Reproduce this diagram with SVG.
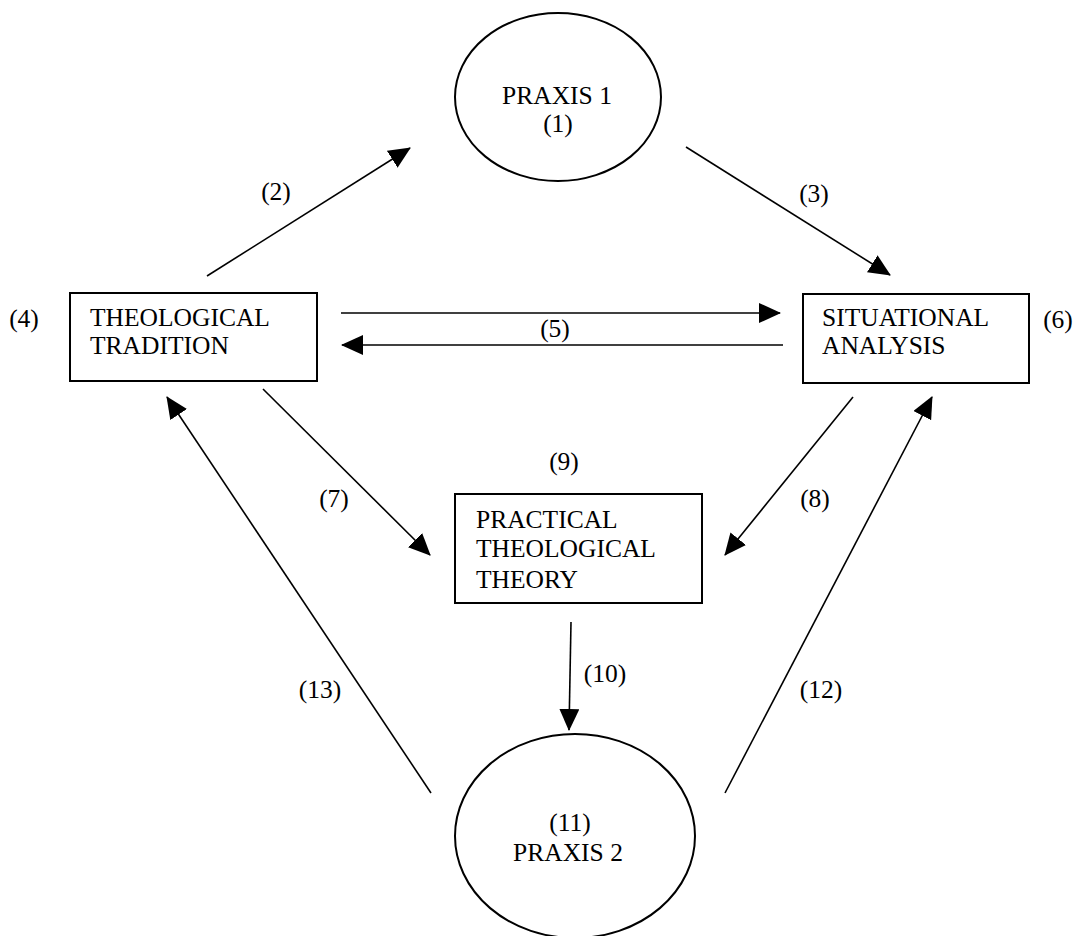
<svg xmlns="http://www.w3.org/2000/svg" width="1083" height="936" viewBox="0 0 1083 936">
<style>
text{font-family:"Liberation Serif","Times New Roman",serif;font-size:25.5px;fill:#000}
.c{text-anchor:middle}
.box{fill:#fff;stroke:#000;stroke-width:2}
.conn line{stroke:#000;stroke-width:1.6;marker-end:url(#ah)}
</style>
<defs>
<marker id="ah" markerUnits="userSpaceOnUse" markerWidth="22" markerHeight="20" viewBox="0 0 22 20" refX="21" refY="10" orient="auto">
<path d="M0,0 L22,10 L0,20 z" fill="#000"/>
</marker>
</defs>
<rect width="1083" height="936" fill="#fff"/>
<g id="praxis1">
<ellipse class="box" cx="558" cy="97" rx="103" ry="84"/>
<text class="c" x="557" y="104">PRAXIS 1</text>
<text class="c" x="558" y="132">(1)</text>
</g>
<g id="theological-tradition">
<rect class="box" x="70" y="293" width="247" height="88"/>
<text x="90" y="326">THEOLOGICAL</text>
<text x="90" y="354">TRADITION</text>
</g>
<g id="situational-analysis">
<rect class="box" x="803" y="294" width="226" height="89"/>
<text x="822" y="326">SITUATIONAL</text>
<text x="822" y="354">ANALYSIS</text>
</g>
<g id="practical-theory">
<rect class="box" x="455" y="494" width="247" height="109"/>
<text x="476" y="528">PRACTICAL</text>
<text x="476" y="557">THEOLOGICAL</text>
<text x="476" y="588">THEORY</text>
</g>
<g id="praxis2">
<ellipse class="box" cx="575" cy="836" rx="120" ry="102"/>
<text class="c" x="570" y="831">(11)</text>
<text class="c" x="568" y="861">PRAXIS 2</text>
</g>
<g id="labels">
<text class="c" x="24" y="327">(4)</text>
<text class="c" x="1058" y="328">(6)</text>
<text class="c" x="555" y="337">(5)</text>
<text class="c" x="276" y="200">(2)</text>
<text class="c" x="814" y="202">(3)</text>
<text class="c" x="334" y="507">(7)</text>
<text class="c" x="815" y="507">(8)</text>
<text class="c" x="564" y="470">(9)</text>
<text class="c" x="605" y="682">(10)</text>
<text class="c" x="320" y="698">(13)</text>
<text class="c" x="821" y="698">(12)</text>
</g>
<g id="connectors" class="conn">
<line x1="207" y1="276" x2="410" y2="148"/>
<line x1="686" y1="147" x2="890" y2="275"/>
<line x1="341" y1="313" x2="780" y2="313"/>
<line x1="783" y1="345" x2="342" y2="345"/>
<line x1="263" y1="389" x2="430" y2="555"/>
<line x1="853" y1="397" x2="725" y2="555"/>
<line x1="571" y1="622" x2="569" y2="730"/>
<line x1="431" y1="793" x2="167" y2="397"/>
<line x1="725" y1="793" x2="932" y2="397"/>
</g>
</svg>
